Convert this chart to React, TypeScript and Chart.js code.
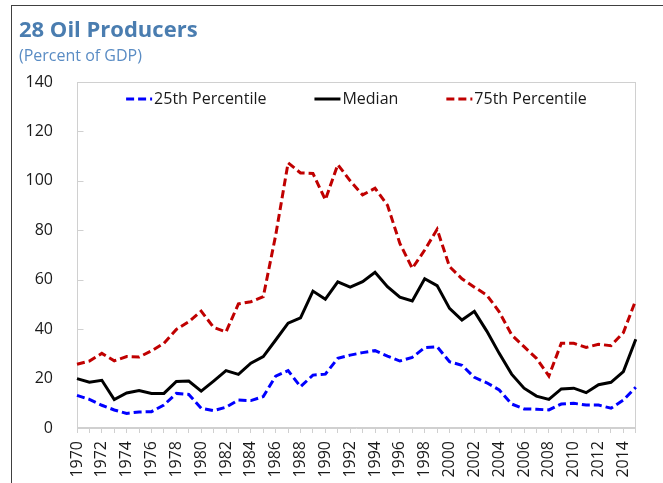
import React, { useEffect, useRef } from "react";
import { Chart, registerables } from "chart.js";

Chart.register(...registerables);

const years = [
  "1970", "1971", "1972", "1973", "1974", "1975", "1976", "1977", "1978", "1979",
  "1980", "1981", "1982", "1983", "1984", "1985", "1986", "1987", "1988", "1989",
  "1990", "1991", "1992", "1993", "1994", "1995", "1996", "1997", "1998", "1999",
  "2000", "2001", "2002", "2003", "2004", "2005", "2006", "2007", "2008", "2009",
  "2010", "2011", "2012", "2013", "2014", "2015",
];

const p25 = [
  13.2, 11.6, 9.2, 7.3, 5.9, 6.5, 6.6, 9.3, 14.0, 13.6,
  8.0, 7.0, 8.4, 11.3, 11.1, 12.7, 21.0, 23.2, 16.7, 21.4,
  21.8, 28.2, 29.5, 30.5, 31.3, 29.1, 27.1, 28.6, 32.5, 32.9,
  26.8, 25.4, 20.5, 18.3, 15.4, 9.7, 7.7, 7.6, 7.3, 9.7,
  10.0, 9.3, 9.3, 8.0, 11.3, 16.5,
];

const median = [
  20.0, 18.5, 19.3, 11.5, 14.2, 15.2, 14.0, 14.0, 18.8, 19.0,
  14.9, 19.0, 23.2, 21.7, 26.2, 28.9, 35.6, 42.4, 44.6, 55.4,
  52.1, 59.1, 57.0, 59.2, 63.0, 57.2, 52.9, 51.4, 60.4, 57.6,
  48.4, 43.7, 47.2, 39.2, 30.2, 21.8, 16.1, 12.9, 11.6, 15.8,
  16.1, 14.3, 17.5, 18.5, 22.8, 35.9,
];

const p75 = [
  25.8, 27.1, 30.2, 27.2, 28.9, 28.7, 31.2, 34.3, 39.9, 43.0,
  47.3, 40.7, 38.9, 50.2, 51.1, 53.1, 78.0, 107.3, 103.2, 103.0,
  92.3, 106.6, 100.0, 94.3, 97.0, 90.2, 74.7, 64.6, 72.0, 80.4,
  65.3, 60.4, 57.0, 53.8, 47.0, 37.7, 32.9, 28.2, 21.0, 34.3,
  34.3, 32.6, 33.9, 33.3, 38.6, 51.8,
];

const seriesNames = ["25th Percentile", "Median", "75th Percentile"];

const FONT = "'Open Sans', 'Noto Sans', sans-serif";
const FRAME = "#d0d0d0";

const framePlugin = {
  id: "frameTicks",
  beforeDatasetsDraw(chart: any) {
    const { ctx, chartArea: a, scales } = chart;
    ctx.save();
    ctx.strokeStyle = FRAME;
    ctx.lineWidth = 1;
    const l = Math.round(a.left) + 0.5;
    const t = Math.round(a.top) + 0.5;
    const r = Math.round(a.right) - 0.5;
    const b = Math.round(a.bottom) - 0.5;
    ctx.strokeRect(l, t, r - l, b - t);
    const y = scales.y;
    y.ticks.forEach((tk: any) => {
      const py = Math.round(y.getPixelForValue(tk.value)) + 0.5;
      ctx.beginPath();
      ctx.moveTo(l, py);
      ctx.lineTo(l + 6, py);
      ctx.stroke();
    });
    ctx.restore();
  },
};

const legendPlugin = {
  id: "insideLegend",
  afterDatasetsDraw(chart: any) {
    const { ctx, chartArea: a } = chart;
    const ds = chart.data.datasets;
    ctx.save();
    ctx.font = `16px ${FONT}`;
    ctx.textBaseline = "middle";
    const sample = 26;
    const gap = 2;
    const spacing = 48;
    const widths = ds.map((d: any) => sample + gap + ctx.measureText(d.label).width);
    const total = widths.reduce((s: number, w: number) => s + w, 0) + spacing * (ds.length - 1);
    let x = (a.left + a.right) / 2 - total / 2;
    const y = a.top + 17;
    ds.forEach((d: any, i: number) => {
      ctx.beginPath();
      ctx.strokeStyle = d.borderColor;
      ctx.lineWidth = d.borderWidth;
      ctx.setLineDash(d.borderDash || []);
      ctx.moveTo(x, y);
      ctx.lineTo(x + sample, y);
      ctx.stroke();
      ctx.setLineDash([]);
      ctx.fillStyle = "#1a1a1a";
      ctx.fillText(d.label, x + sample + gap, y);
      x += widths[i] + spacing;
    });
    ctx.restore();
  },
};

export default function App() {
  const ref = useRef<HTMLCanvasElement>(null);

  useEffect(() => {
    const canvas = ref.current;
    if (!canvas) return;
    const chart = new Chart(canvas, {
      type: "line",
      data: {
        labels: years,
        datasets: [
          {
            label: seriesNames[0],
            data: p25,
            borderColor: "#0000ff",
            borderWidth: 3,
            borderDash: [8, 4],
            pointRadius: 0,
            fill: false,
            tension: 0,
          },
          {
            label: seriesNames[1],
            data: median,
            borderColor: "#000000",
            borderWidth: 3,
            borderDash: [],
            pointRadius: 0,
            fill: false,
            tension: 0,
          },
          {
            label: seriesNames[2],
            data: p75,
            borderColor: "#c00000",
            borderWidth: 3,
            borderDash: [8, 4],
            pointRadius: 0,
            fill: false,
            tension: 0,
          },
        ],
      },
      options: {
        responsive: false,
        animation: false,
        devicePixelRatio: 1,
        layout: { padding: { left: 0, top: 82, right: 18, bottom: 0 } },
        plugins: {
          legend: { display: false },
          title: { display: false },
          tooltip: { enabled: false },
        },
        scales: {
          x: {
            type: "category",
            offset: false,
            grid: {
              display: true,
              drawOnChartArea: false,
              drawTicks: true,
              tickLength: 5,
              color: FRAME,
              offset: false,
            },
            border: { display: true, color: FRAME, width: 1 },
            ticks: {
              autoSkip: false,
              maxRotation: 90,
              minRotation: 90,
              padding: 8,
              color: "#1a1a1a",
              font: { family: FONT, size: 16 },
              callback: (_v: any, i: number) => (i % 2 === 0 ? years[i] : ""),
            },
            afterFit: (s: any) => {
              s.height = 55;
            },
          },
          y: {
            min: 0,
            max: 140,
            grid: { display: false },
            border: { display: true, color: FRAME, width: 1 },
            ticks: {
              stepSize: 20,
              padding: 16,
              color: "#1a1a1a",
              font: { family: FONT, size: 16 },
            },
            afterFit: (s: any) => {
              s.width = 77;
            },
          },
        },
      },
      plugins: [framePlugin, legendPlugin],
    });
    return () => chart.destroy();
  }, []);

  return (
    <div
      style={{
        position: "fixed",
        left: 0,
        top: 0,
        width: 663,
        height: 483,
        overflow: "hidden",
        background: "#ffffff",
      }}
    >
      <div
        style={{
          position: "absolute",
          left: 11,
          top: 5,
          right: -5,
          bottom: -5,
          borderTop: "1px solid #404040",
          borderLeft: "1px solid #404040",
        }}
      />
      <canvas
        ref={ref}
        width={663}
        height={483}
        style={{ position: "absolute", left: 0, top: 0, width: 663, height: 483 }}
      />
      <div
        style={{
          position: "absolute",
          left: 19,
          top: 14,
          fontFamily: FONT,
          fontWeight: 700,
          fontSize: 22,
          lineHeight: "28px",
          color: "#4a7db0",
          whiteSpace: "nowrap",
        }}
      >
        28 Oil Producers
      </div>
      <div
        style={{
          position: "absolute",
          left: 19,
          top: 44,
          fontFamily: FONT,
          fontSize: 16,
          lineHeight: "22px",
          color: "#5a8cc4",
          whiteSpace: "nowrap",
        }}
      >
        (Percent of GDP)
      </div>
    </div>
  );
}
